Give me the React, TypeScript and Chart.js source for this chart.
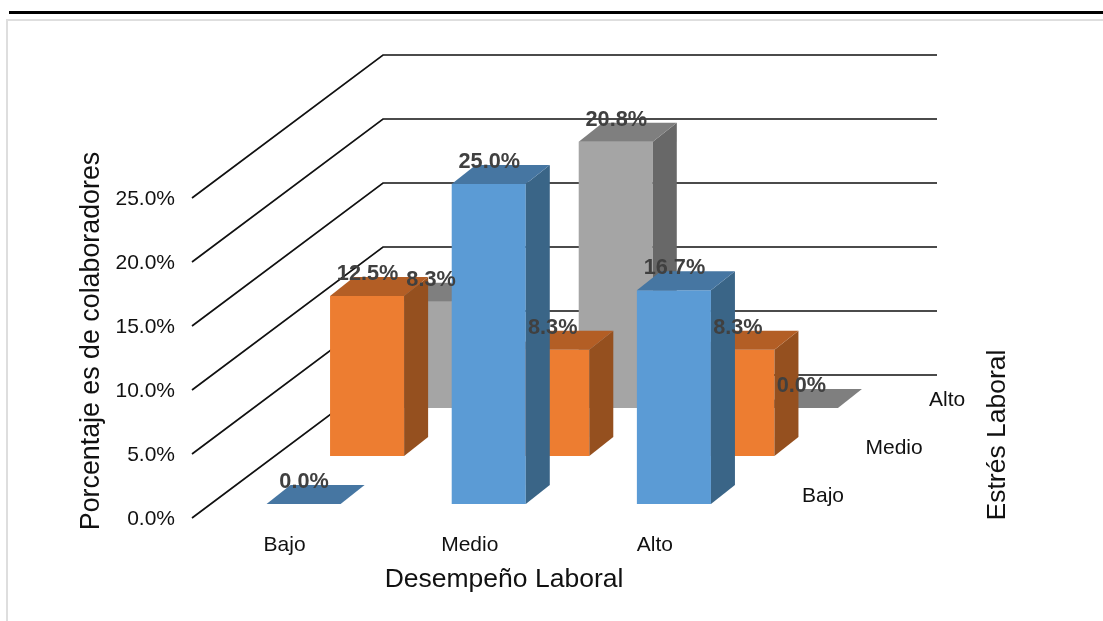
import React, { useEffect, useRef } from "react";
import { Chart, registerables } from "chart.js";

Chart.register(...registerables);

// Desempeño laboral por nivel de estrés laboral
const performanceLevels = ["Bajo", "Medio", "Alto"];
const stressLevels = ["Bajo", "Medio", "Alto"];
const stressLow = [0.0, 25.0, 16.7];
const stressMid = [12.5, 8.3, 8.3];
const stressHigh = [8.3, 20.8, 0.0];
const yTicks = [0, 5, 10, 15, 20, 25];

const FONT = '"Liberation Sans", Arial, sans-serif';

// Oblique projection of the depth axis
const FLOOR_DX = 191;
const FLOOR_DY = 143;
const BAR_DX = 24;
const BAR_DY = 19;
const rowShift = (row: number) => ({ dx: 19 + 63.5 * row, dy: -14 - 48 * row });

const faces = [
  { front: "#5B9BD5", top: "#4676A2", side: "#3A6587" },
  { front: "#ED7D31", top: "#B35E25", side: "#95501F" },
  { front: "#A5A5A5", top: "#7F7F7F", side: "#686868" },
];

const poly = (ctx: CanvasRenderingContext2D, pts: number[][], fill: string) => {
  ctx.beginPath();
  pts.forEach(([x, y], i) => (i ? ctx.lineTo(x, y) : ctx.moveTo(x, y)));
  ctx.closePath();
  ctx.fillStyle = fill;
  ctx.fill();
};

const walls = {
  id: "walls",
  beforeDatasetsDraw(chart: any) {
    const { ctx, chartArea: a, scales } = chart;
    ctx.save();
    ctx.strokeStyle = "#111";
    ctx.lineWidth = 1.7;
    yTicks.forEach((t) => {
      const y = scales.y.getPixelForValue(t);
      ctx.beginPath();
      ctx.moveTo(a.left, y);
      ctx.lineTo(a.left + FLOOR_DX, y - FLOOR_DY);
      ctx.lineTo(a.right + FLOOR_DX - 1.5, y - FLOOR_DY);
      ctx.stroke();
    });
    ctx.restore();
  },
};

// Shifts each series to its depth row and adds the side and top faces
const cuboids = {
  id: "cuboids",
  beforeDatasetDraw(chart: any, args: any) {
    const { dx, dy } = rowShift(args.index);
    chart.ctx.save();
    chart.ctx.translate(dx, dy);
  },
  afterDatasetDraw(chart: any, args: any) {
    const ctx = chart.ctx;
    const c = faces[args.index];
    args.meta.data.forEach((bar: any) => {
      const r = bar.x + bar.width / 2;
      const l = bar.x - bar.width / 2;
      poly(ctx, [[r, bar.y], [r + BAR_DX, bar.y - BAR_DY], [r + BAR_DX, bar.base - BAR_DY], [r, bar.base]], c.side);
      poly(ctx, [[l, bar.y], [l + BAR_DX, bar.y - BAR_DY], [r + BAR_DX, bar.y - BAR_DY], [r, bar.y]], c.top);
    });
    ctx.restore();
  },
};

const captions = {
  id: "captions",
  afterDatasetsDraw(chart: any) {
    const { ctx, chartArea: a } = chart;
    ctx.save();
    ctx.textBaseline = "middle";

    // Value labels above each bar
    ctx.font = `bold 21.7px ${FONT}`;
    ctx.fillStyle = "#404040";
    ctx.textAlign = "center";
    chart.data.datasets.forEach((ds: any, i: number) => {
      const { dx, dy } = rowShift(i);
      chart.getDatasetMeta(i).data.forEach((bar: any, j: number) => {
        ctx.fillText(`${ds.data[j].toFixed(1)}%`, bar.x + dx + 0.5, bar.y + dy - 22);
      });
    });

    // Depth axis categories
    ctx.font = `21px ${FONT}`;
    ctx.fillStyle = "#111";
    ctx.textAlign = "left";
    stressLevels.forEach((name, i) => {
      const { dx, dy } = rowShift(i);
      ctx.fillText(name, a.right + dx + 35.5, a.bottom + dy - 8);
    });

    // Axis titles
    ctx.textAlign = "center";
    ctx.font = `26.5px ${FONT}`;
    ctx.fillText("Desempeño Laboral", 504, 580);
    ctx.save();
    ctx.translate(92, 341);
    ctx.rotate(-Math.PI / 2);
    ctx.font = `26.8px ${FONT}`;
    ctx.fillText("Porcentaje es de colaboradores", 0, 0);
    ctx.restore();
    ctx.translate(998, 435);
    ctx.rotate(-Math.PI / 2);
    ctx.fillText("Estrés Laboral", 0, 0);
    ctx.restore();
  },
};

const series = [stressLow, stressMid, stressHigh];

export default function App() {
  const ref = useRef<HTMLCanvasElement>(null);

  useEffect(() => {
    const chart = new Chart(ref.current!, {
      type: "bar",
      data: {
        labels: performanceLevels,
        datasets: series.map((data, i) => ({
          label: stressLevels[i],
          data,
          backgroundColor: faces[i].front,
          borderWidth: 0,
          grouped: false,
          clip: false,
          categoryPercentage: 1,
          barPercentage: 0.4,
        })),
      } as any,
      options: {
        animation: false,
        responsive: false,
        layout: { padding: { left: 75, right: 355.5, top: 198, bottom: 28 } },
        plugins: { legend: { display: false }, tooltip: { enabled: false } },
        scales: {
          x: {
            grid: { display: false, drawTicks: false },
            border: { display: false },
            afterFit: (s: any) => {
              s.height = 75;
            },
            ticks: {
              maxRotation: 0,
              padding: 15,
              color: "#111",
              font: { family: FONT, size: 21 },
            },
          },
          y: {
            min: 0,
            max: 25,
            grid: { display: false, drawTicks: false },
            border: { display: false },
            afterFit: (s: any) => {
              s.width = 117;
            },
            ticks: {
              stepSize: 5,
              padding: 17,
              color: "#111",
              font: { family: FONT, size: 21 },
              callback: (v: any) => `${Number(v).toFixed(1)}%`,
              // Nudges the labels down onto the wall lines
              labelOffset: 1,
            },
          },
        },
      } as any,
      plugins: [walls, cuboids, captions],
    });
    return () => chart.destroy();
  }, []);

  return (
    <div style={{ position: "fixed", inset: 0, background: "#fff", overflow: "hidden" }}>
      <div style={{ position: "absolute", left: 9, right: 0, top: 11, height: 3, background: "#000" }} />
      <div
        style={{
          position: "absolute",
          left: 6,
          right: 0,
          top: 19,
          bottom: 0,
          borderLeft: "2px solid #dedede",
          borderTop: "2px solid #dedede",
        }}
      />
      <canvas ref={ref} width={1103} height={621} style={{ position: "absolute", left: 0, top: 0 }} />
    </div>
  );
}
